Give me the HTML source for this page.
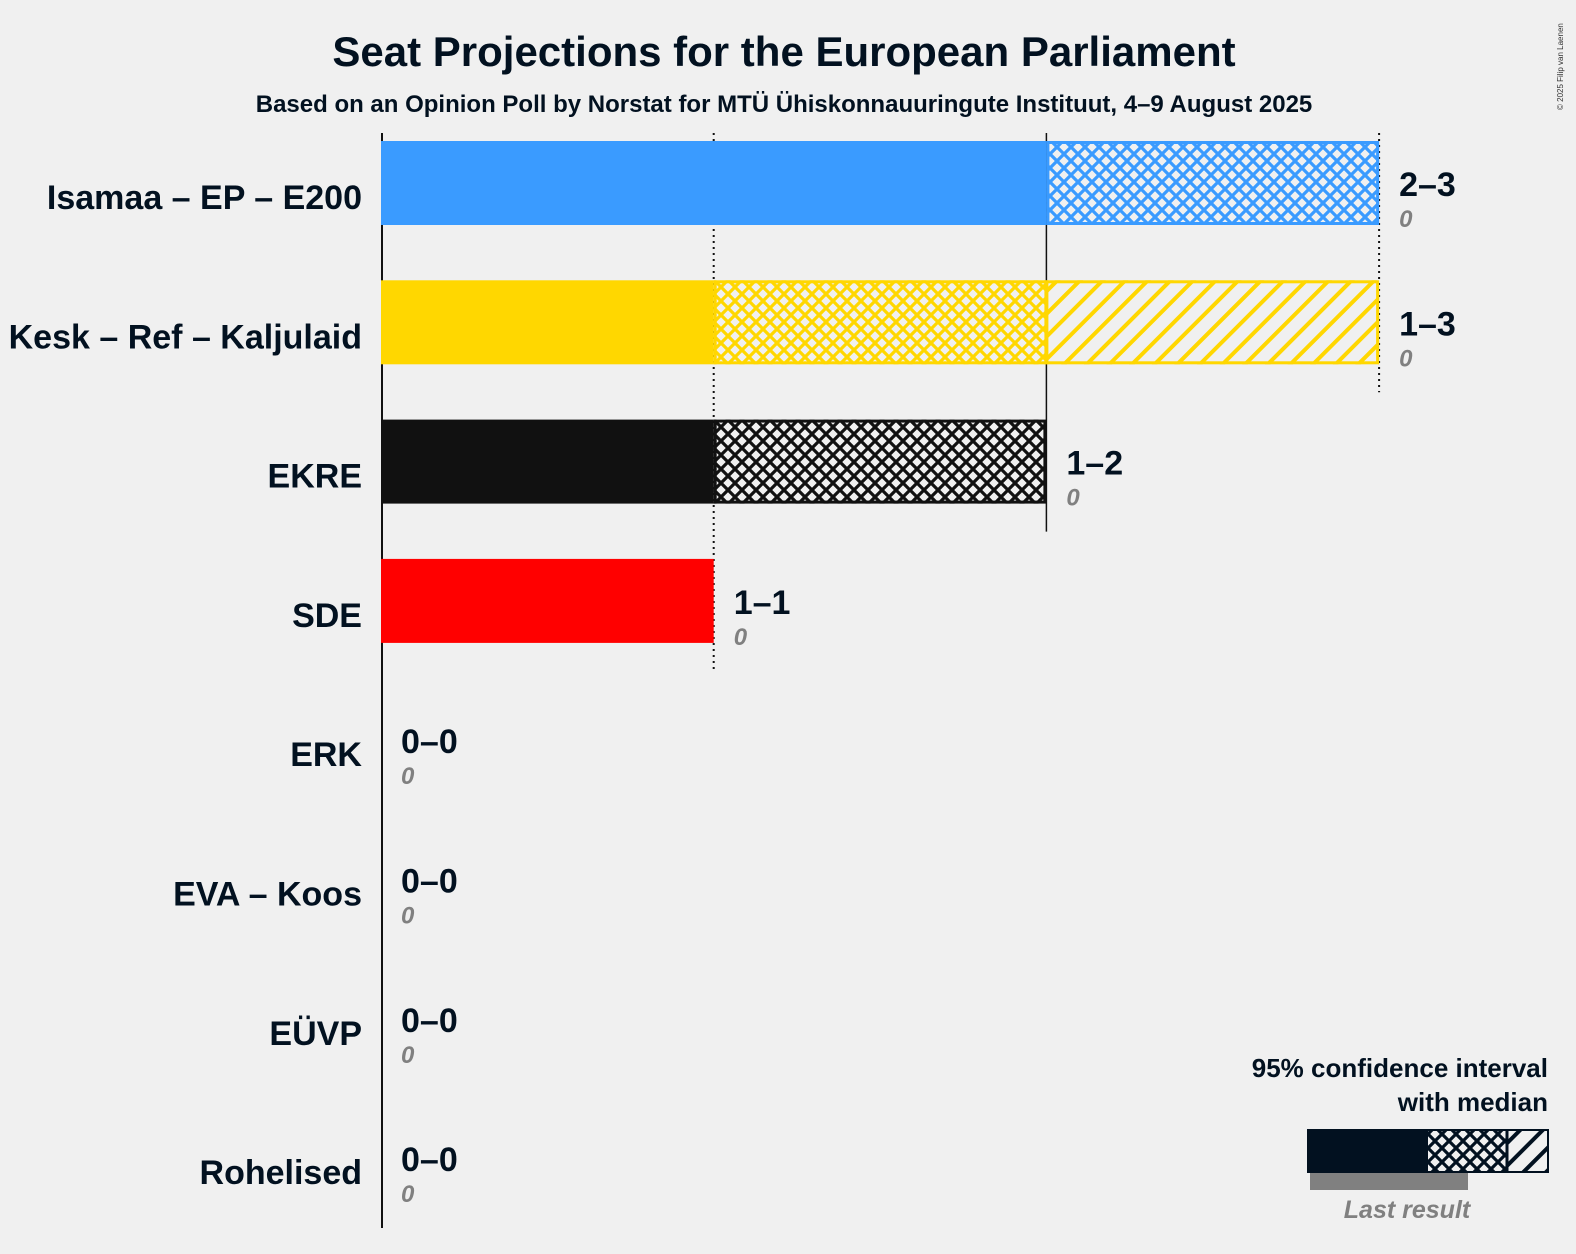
<!DOCTYPE html>
<html><head><meta charset="utf-8"><style>
html,body{margin:0;padding:0;background:#f0f0f0;}
svg{display:block;font-family:"Liberation Sans",sans-serif;}
</style></head><body>
<svg id="chart" width="1576" height="1254" viewBox="0 0 1576 1254" xmlns="http://www.w3.org/2000/svg">
<defs>
<pattern id="ch-blue" patternUnits="userSpaceOnUse" width="14" height="14"><path d="M0,0L14,14M14,0L0,14" stroke="#3a9bff" stroke-width="3.2"/></pattern>
<pattern id="ch-yellow" patternUnits="userSpaceOnUse" width="14" height="14"><path d="M0,0L14,14M14,0L0,14" stroke="#ffd700" stroke-width="3.2"/></pattern>
<pattern id="ch-black" patternUnits="userSpaceOnUse" width="14" height="14"><path d="M0,0L14,14M14,0L0,14" stroke="#111" stroke-width="3.2"/></pattern>
<pattern id="dg-yellow" patternUnits="userSpaceOnUse" width="16" height="16" patternTransform="rotate(45)"><rect x="0" y="0" width="4" height="16" fill="#ffd700"/></pattern>
<pattern id="ch-legend" patternUnits="userSpaceOnUse" width="14" height="14"><path d="M0,0L14,14M14,0L0,14" stroke="#021120" stroke-width="3.2"/></pattern>
<pattern id="dg-legend" patternUnits="userSpaceOnUse" width="16" height="16" patternTransform="rotate(45)"><rect x="0" y="0" width="4" height="16" fill="#021120"/></pattern>
</defs>
<text x="784" y="66" text-anchor="middle" font-size="42" font-weight="bold" fill="#021120">Seat Projections for the European Parliament</text>
<text x="784" y="112" text-anchor="middle" font-size="24" font-weight="bold" fill="#021120">Based on an Opinion Poll by Norstat for MTÜ Ühiskonnauuringute Instituut, 4–9 August 2025</text>
<text x="1563" y="110" font-size="8" fill="#333" transform="rotate(-90 1563 110)">© 2025 Filip van Laenen</text>
<g id="grid"></g>
<g id="bars"></g>
<g id="legend">
<text x="1548" y="1077" text-anchor="end" font-size="26" font-weight="bold" fill="#021120">95% confidence interval</text>
<text x="1548" y="1111" text-anchor="end" font-size="26" font-weight="bold" fill="#021120">with median</text>
<rect x="1310" y="1173" width="158" height="17" fill="#808080"/>
<rect x="1307" y="1129" width="121" height="43" fill="#021120"/>
<rect x="1428" y="1129" width="79" height="43" fill="url(#ch-legend)"/>
<rect x="1507" y="1129" width="41" height="43" fill="url(#dg-legend)"/>
<rect x="1308" y="1130" width="240" height="42" fill="none" stroke="#021120" stroke-width="2"/>
<line x1="1507" y1="1130" x2="1507" y2="1172" stroke="#021120" stroke-width="3"/>
<text x="1407" y="1218" text-anchor="middle" font-size="25" font-style="italic" font-weight="bold" fill="#808080">Last result</text>
</g>
</svg>
<script>
const parties = ["Isamaa – EP – E200","Kesk – Ref – Kaljulaid","EKRE","SDE","ERK","EVA – Koos","EÜVP","Rohelised"];
const ciLow = [2,1,1,1,0,0,0,0];
const median = [2,2,2,1,0,0,0,0];
const ciHigh = [3,3,2,1,0,0,0,0];
const lastResult = [0,0,0,0,0,0,0,0];
const colors = ["#3a9bff","#ffd700","#111111","#ff0000","#888","#888","#888","#888"];
const patKeys = ["blue","yellow","black","red","g","g","g","g"];
const gridTicks = [1,2,3];

const NS="http://www.w3.org/2000/svg";
const x0=381, unit=332.7, rowTop=141, rowStep=139.3, barH=84;
const xs=v=>x0+v*unit;
const yc=i=>rowTop+barH/2+i*rowStep;
function mk(tag,attrs,parent){const e=document.createElementNS(NS,tag);for(const k in attrs)e.setAttribute(k,attrs[k]);parent.appendChild(e);return e;}
const grid=document.getElementById('grid'), bars=document.getElementById('bars');

gridTicks.forEach(t=>{
  let last=-1; ciHigh.forEach((h,i)=>{if(h>=t)last=i;});
  const yEnd = last>=0 ? rowTop+last*rowStep+barH+28 : 530;
  const l=mk('line',{x1:xs(t),x2:xs(t),y1:133,y2:yEnd,stroke:'#111','stroke-width':t===2?1.5:2,'stroke-dasharray':t===2?'none':'2,4'},grid);
  
  
});

parties.forEach((p,i)=>{
  const top=rowTop+i*rowStep, c=colors[i], k=patKeys[i];
  const g=mk('g',{},bars);
  
  
  if(ciLow[i]>0){
    const r=mk('rect',{x:xs(0),y:top,width:xs(ciLow[i])-xs(0),height:barH,fill:c},g);
    
    
  }
  if(median[i]>ciLow[i]){
    const r=mk('rect',{x:xs(ciLow[i]),y:top,width:xs(median[i])-xs(ciLow[i]),height:barH,fill:'url(#ch-'+k+')'},g);
    
    
  }
  if(ciHigh[i]>median[i]){
    const r=mk('rect',{x:xs(median[i]),y:top,width:xs(ciHigh[i])-xs(median[i]),height:barH,fill:(k==='yellow'?'url(#dg-yellow)':'url(#ch-'+k+')')},g);
    
    
  }
  if(ciHigh[i]>ciLow[i]){
    const o=mk('rect',{x:xs(ciLow[i])+1.5,y:top+1.5,width:xs(ciHigh[i])-xs(ciLow[i])-3,height:barH-3,fill:'none',stroke:c,'stroke-width':3},g);
    
    
    if(median[i]>ciLow[i]&&ciHigh[i]>median[i]){
      const m=mk('line',{x1:xs(median[i]),x2:xs(median[i]),y1:top,y2:top+barH,stroke:c,'stroke-width':4},g);
      
      
    }
  }
  const lb=mk('text',{x:362,y:yc(i)+26,'text-anchor':'end','font-size':34,'font-weight':'bold',fill:'#021120'},g);
  lb.textContent=p;
  
  
  const tx=xs(ciHigh[i])+20;
  const rl=mk('text',{x:tx,y:yc(i)+13,'font-size':34,'font-weight':'bold',fill:'#021120'},g);
  rl.textContent=ciLow[i]+'–'+ciHigh[i];
  
  
  const ll=mk('text',{x:tx,y:yc(i)+44,'font-size':24,'font-style':'italic','font-weight':'bold',fill:'#808080'},g);
  ll.textContent=lastResult[i];
  
  
});
const ax=mk('line',{x1:x0+1,x2:x0+1,y1:133,y2:1228,stroke:'#111','stroke-width':2},grid);


</script>
</body></html>
